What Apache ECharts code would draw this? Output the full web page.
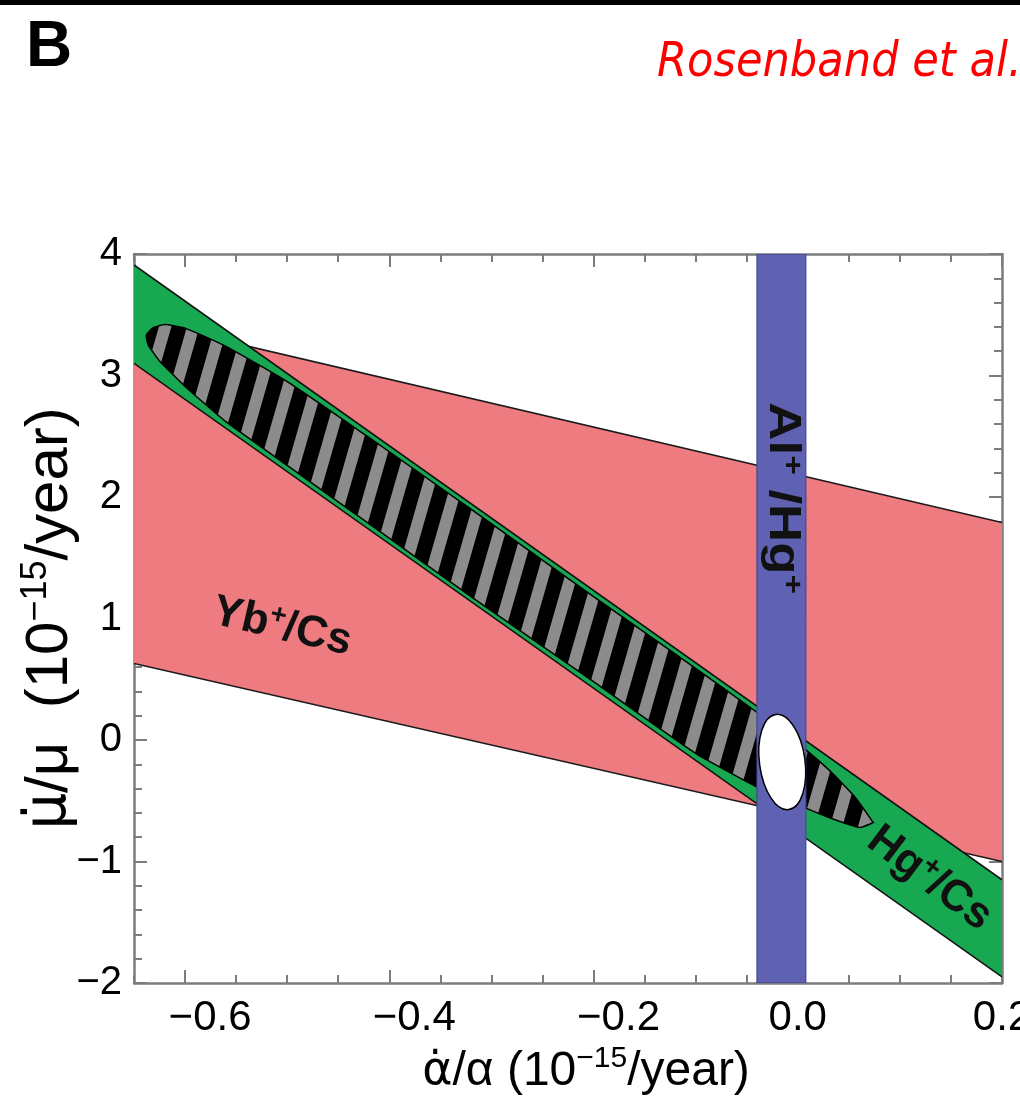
<!DOCTYPE html>
<html>
<head>
<meta charset="utf-8">
<script src="https://cdn.jsdelivr.net/npm/echarts@6/dist/echarts.min.js"></script>
<style>
html,body{margin:0;padding:0;background:#fff;}
#c{width:1020px;height:1117px;}
</style>
</head>
<body>
<div id="c"></div>
<script>
// ---------------- data ----------------
const xMin = -0.65, xMax = 0.2, yMin = -2, yMax = 4;
const xTickLabels = [-0.6, -0.4, -0.2, 0.0, 0.2];
const xMinorStep = 0.05;
const yTickLabels = [-2, -1, 0, 1, 2, 3, 4];
const yMinorSplit = 5;

// Yb+/Cs band (pink): upper & lower edges
const pinkUpper = [[-0.65, 3.46], [0.20, 1.79]];
const pinkLower = [[-0.65, 0.63], [0.20, -1.00]];
// Hg+/Cs band (green)
const greenUpper = [[-0.65, 3.91], [0.20, -1.15]];
const greenLower = [[-0.65, 3.10], [0.20, -1.95]];
// Al+/Hg+ band (blue): x range
const blueBand = [-0.040, 0.008];
// combined striped region outline
const stripedUpper = [
  [-0.638, 3.33], [-0.632, 3.39], [-0.620, 3.42], [-0.600, 3.39], [-0.560, 3.24],
  [-0.500, 2.95], [-0.420, 2.49], [-0.320, 1.90], [-0.200, 1.18], [-0.100, 0.59],
  [-0.037, 0.21], [0.002, -0.04], [0.031, -0.25], [0.056, -0.47], [0.074, -0.68]
];
const stripedLower = [
  [0.074, -0.68], [0.061, -0.72], [0.031, -0.64], [0.002, -0.54], [-0.037, -0.40],
  [-0.100, -0.11], [-0.200, 0.48], [-0.320, 1.18], [-0.420, 1.78], [-0.500, 2.26],
  [-0.560, 2.62], [-0.600, 2.91], [-0.625, 3.12], [-0.636, 3.25]
];
// all-combined ellipse (white): centre x, centre y, half-width (x units), half-height (y units)
const whiteEllipse = [-0.0152, -0.181, 0.0223, 0.395];

// in-plot labels
const bandLabelText = ['{b|Yb}{s|+}{b|/Cs}', '{b|Al}{s|+}{b| /Hg}{s|+}', '{b|Hg}{s|+}{b|/Cs}'];
const bandLabelPos = [[-0.505, 0.93], [-0.0157, 1.99], [0.129, -1.14]];

// ---------------- drawing ----------------
const SANS = "'Liberation Sans',Arial,sans-serif";
const DOT = "'DejaVu Sans',sans-serif";
const axisColor = '#7c7c7c';
const labelRot = [-13, -90, -37];

const stripeCanvas = document.createElement('canvas');
stripeCanvas.width = 27; stripeCanvas.height = 6;
(function () {
  const g = stripeCanvas.getContext('2d');
  g.fillStyle = '#000'; g.fillRect(0, 0, 27, 6);
  g.fillStyle = '#8c8c8c'; g.fillRect(0, 0, 12, 6);
})();

function bandSeries(upper, lower, fill, edge) {
  return {
    type: 'custom', coordinateSystem: 'cartesian2d', xAxisIndex: 0, yAxisIndex: 0,
    clip: true, silent: true, animation: false,
    data: upper.concat(lower),
    renderItem: function (params, api) {
      if (params.dataIndex !== 0) return null;
      const up = upper.map(p => api.coord(p));
      const lo = lower.map(p => api.coord(p));
      return {
        type: 'group', children: [
          { type: 'polygon', shape: { points: up.concat(lo.slice().reverse()) }, style: { fill: fill } },
          { type: 'polyline', shape: { points: up }, style: { stroke: edge, lineWidth: 1.6, fill: null } },
          { type: 'polyline', shape: { points: lo }, style: { stroke: edge, lineWidth: 1.6, fill: null } }
        ]
      };
    }
  };
}

const fmtX = v => v < 0 ? '{n|\u2212' + Math.abs(v).toFixed(1) + '}' : '{p|' + Math.abs(v).toFixed(1) + '}';
const fmtY = v => (v < 0 ? '\u2212' : '') + Math.abs(v);

function xMinorValues() {
  const out = [];
  for (let k = 0; xMin + k * xMinorStep <= xMax + 1e-9; k++) out.push(+(xMin + k * xMinorStep).toFixed(4));
  return out;
}

const tickLine = { color: axisColor, width: 2 };
const xBase = {
  type: 'value', min: xMin, max: xMax, splitLine: { show: false },
  axisLine: { show: false, onZero: false }, axisLabel: { show: false }
};

const option = {
  animation: false,
  backgroundColor: '#fff',
  grid: { left: 134, right: 18, top: 254, bottom: 134, outerBoundsMode: 'none', containLabel: false },
  xAxis: [
    Object.assign({}, xBase, {
      position: 'bottom',
      axisLine: { show: true, onZero: false, lineStyle: { color: axisColor, width: 2.5 } },
      axisTick: { show: true, inside: true, length: 13, customValues: xTickLabels, lineStyle: tickLine },
      axisLabel: { show: true, customValues: xTickLabels, formatter: fmtX, color: '#000',
        fontFamily: SANS, fontSize: 42, margin: 14,
        rich: {
          n: { fontFamily: SANS, fontSize: 42, color: '#000', padding: [0, 0, 0, 50] },
          p: { fontFamily: SANS, fontSize: 42, color: '#000' }
        } },
      name: '{d|\u03B1\u0307}{a|/\u03B1 (10}{s|\u221215}{a|/year)}',
      nameLocation: 'middle', nameGap: 60,
      nameTextStyle: {
        color: '#000', fontFamily: SANS, fontSize: 48, padding: [0, 0, 0, 36],
        rich: {
          d: { fontFamily: DOT, fontSize: 46, lineHeight: 56, color: '#000' },
          a: { fontFamily: SANS, fontSize: 48, lineHeight: 56, color: '#000' },
          s: { fontFamily: SANS, fontSize: 30, lineHeight: 34, verticalAlign: 'top', color: '#000' }
        }
      }
    }),
    Object.assign({}, xBase, {
      position: 'bottom',
      axisTick: { show: true, inside: true, length: 8, customValues: xMinorValues(), lineStyle: tickLine }
    }),
    Object.assign({}, xBase, {
      position: 'top',
      axisLine: { show: true, onZero: false, lineStyle: { color: axisColor, width: 2.5 } },
      axisTick: { show: true, inside: true, length: 13, customValues: xTickLabels, lineStyle: tickLine }
    }),
    Object.assign({}, xBase, {
      position: 'top',
      axisTick: { show: true, inside: true, length: 8, customValues: xMinorValues(), lineStyle: tickLine }
    })
  ],
  yAxis: [
    {
      type: 'value', min: yMin, max: yMax, interval: 1, position: 'left',
      splitLine: { show: false },
      axisLine: { show: true, onZero: false, lineStyle: { color: axisColor, width: 2.5 } },
      axisTick: { show: true, inside: true, length: 13, lineStyle: tickLine },
      minorTick: { show: true, splitNumber: yMinorSplit, length: 8, lineStyle: tickLine },
      axisLabel: { show: true, formatter: fmtY, color: '#000', fontFamily: SANS, fontSize: 40, margin: 12,
        customValues: yTickLabels },
      name: '{d|\u03BC\u0307}{a|/\u03BC  (10}{s|\u221215}{a|/year)}',
      nameLocation: 'middle', nameGap: 52, nameMoveOverlap: false,
      nameTextStyle: {
        color: '#000', fontFamily: SANS, fontSize: 60,
        rich: {
          d: { fontFamily: DOT, fontSize: 58, lineHeight: 64, color: '#000' },
          a: { fontFamily: SANS, fontSize: 60, lineHeight: 64, color: '#000' },
          s: { fontFamily: SANS, fontSize: 36, lineHeight: 40, verticalAlign: 'top', color: '#000' }
        }
      }
    },
    {
      type: 'value', min: yMin, max: yMax, interval: 1, position: 'right',
      splitLine: { show: false },
      axisLine: { show: true, onZero: false, lineStyle: { color: axisColor, width: 2.5 } },
      axisTick: { show: true, inside: true, length: 13, lineStyle: tickLine },
      minorTick: { show: true, splitNumber: yMinorSplit, length: 8, lineStyle: tickLine },
      axisLabel: { show: false }
    }
  ],
  graphic: [
    { type: 'rect', left: 0, top: 0, shape: { width: 1020, height: 5 }, style: { fill: '#000' }, silent: true },
    { type: 'text', x: 26, y: 48, silent: true,
      style: { text: 'B', fontFamily: SANS, fontWeight: 'bold', fontSize: 64, fill: '#000',
        align: 'left', verticalAlign: 'middle' } },
    { type: 'text', x: 657, y: 64, silent: true,
      style: { text: 'Rosenband et al.', fontFamily: "'DejaVu Sans Condensed','DejaVu Sans',sans-serif",
        fontStyle: 'italic', fontSize: 48, fill: '#ff0000', align: 'left', verticalAlign: 'middle' } }
  ],
  series: [
    bandSeries(pinkUpper, pinkLower, '#ee7b80', '#1a1a1a'),
    bandSeries(greenUpper, greenLower, '#17a851', '#111'),
    {
      type: 'custom', coordinateSystem: 'cartesian2d', clip: true, silent: true,
      data: stripedUpper.concat(stripedLower),
      renderItem: function (params, api) {
        if (params.dataIndex !== 0) return null;
        const pts = stripedUpper.concat(stripedLower).map(p => api.coord(p));
        return { type: 'polygon', shape: { points: pts, smooth: 0.15 },
          style: { fill: { image: stripeCanvas, repeat: 'repeat', rotation: 0.28 }, stroke: '#000', lineWidth: 1.5 } };
      }
    },
    {
      type: 'custom', coordinateSystem: 'cartesian2d', clip: true, silent: true,
      data: [[blueBand[0], yMin], [blueBand[1], yMax]],
      renderItem: function (params, api) {
        if (params.dataIndex !== 0) return null;
        const a = api.coord([blueBand[0], yMin]);
        const b = api.coord([blueBand[1], yMax]);
        return { type: 'rect', shape: { x: a[0], y: b[1], width: b[0] - a[0], height: a[1] - b[1] },
          style: { fill: '#5f62b2', stroke: '#3f418a', lineWidth: 1 } };
      }
    },
    {
      type: 'custom', coordinateSystem: 'cartesian2d', clip: true, silent: true,
      data: [whiteEllipse.slice(0, 2)],
      renderItem: function (params, api) {
        const c = api.coord([whiteEllipse[0], whiteEllipse[1]]);
        const s = api.size([whiteEllipse[2], whiteEllipse[3]]);
        return { type: 'ellipse', x: c[0], y: c[1], rotation: 7.8 * Math.PI / 180,
          shape: { cx: 0, cy: 0, rx: s[0], ry: s[1] },
          style: { fill: '#fff', stroke: '#000', lineWidth: 1.5 } };
      }
    },
    {
      type: 'custom', coordinateSystem: 'cartesian2d', clip: false, silent: true,
      data: bandLabelPos,
      renderItem: function (params, api) {
        const i = params.dataIndex;
        const p = api.coord(bandLabelPos[i]);
        const vertical = i === 1;
        return { type: 'text', x: p[0], y: p[1], rotation: labelRot[i] * Math.PI / 180,
          scaleX: vertical ? 1.2 : 1, scaleY: 1,
          style: { text: bandLabelText[i], align: 'center', verticalAlign: 'middle', fill: '#111',
            rich: {
              b: { fontFamily: SANS, fontWeight: 'bold', fontSize: 44, lineHeight: 48, fill: '#111' },
              s: { fontFamily: SANS, fontWeight: 'bold', fontSize: 28, lineHeight: 30, verticalAlign: 'top', fill: '#111' }
            } } };
      }
    }
  ]
};

const chart = echarts.init(document.getElementById('c'), null, { renderer: 'canvas' });
chart.setOption(option);
</script>
</body>
</html>
